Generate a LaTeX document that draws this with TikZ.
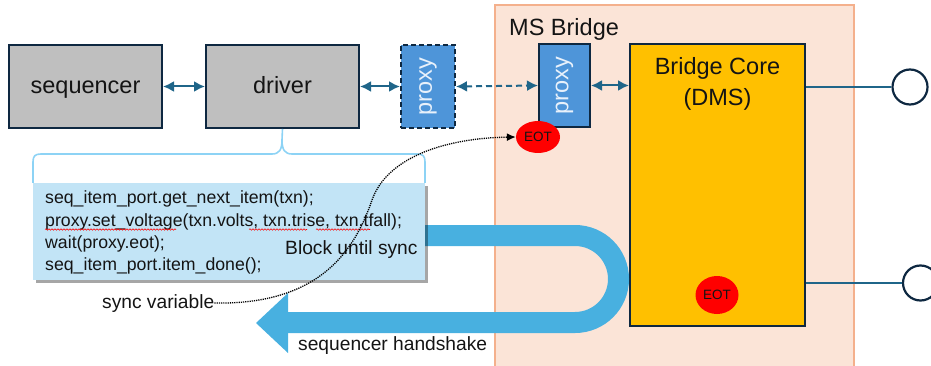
\documentclass[tikz,border=0pt]{standalone}
\usepackage{fontspec}
\setmainfont{Liberation Sans}
\usetikzlibrary{shapes.geometric,arrows.meta,shadows,decorations.pathmorphing}
\definecolor{grayfill}{HTML}{BFBFBF}
\definecolor{navy}{HTML}{0E2841}
\definecolor{linkblue}{HTML}{1F6589}
\definecolor{proxyblue}{HTML}{4E95D9}
\definecolor{proxytext}{HTML}{E8F1FB}
\definecolor{corefill}{HTML}{FFC000}
\definecolor{bridgefill}{HTML}{FBE4D7}
\definecolor{bridgedraw}{HTML}{F4B08C}
\definecolor{bandblue}{HTML}{48B0E0}
\definecolor{codefill}{HTML}{C2E4F6}
\definecolor{bracecol}{HTML}{8DD3F5}
\definecolor{eotred}{HTML}{FF0000}
\definecolor{txt}{HTML}{141414}
\newcommand{\bigfont}{\fontsize{23.5}{28}\selectfont}
\newcommand{\codefont}{\fontsize{17.7}{22}\selectfont}
\newcommand{\notefont}{\fontsize{19.2}{23}\selectfont}
\newcommand{\eotfont}{\fontsize{13.5}{15}\selectfont}
\begin{document}
\begin{tikzpicture}[x=1pt,y=-1pt,
  graybox/.style={draw=navy,line width=2pt,fill=grayfill,minimum width=153pt,minimum height=83pt,inner sep=0pt},
  boxtext/.style={anchor=base,inner sep=0pt,text=txt,font=\bigfont},
  proxybox/.style={draw=navy,line width=2pt,fill=proxyblue,inner sep=0pt,text=proxytext,font=\bigfont},
  corebox/.style={draw=navy,line width=2pt,fill=corefill,inner sep=0pt},
  link/.style={draw=linkblue,line width=2pt,{Latex[length=11pt,width=11pt]}-{Latex[length=11pt,width=11pt]}},
  port/.style={circle,draw=navy,line width=2.2pt,fill=white,minimum size=35pt,inner sep=0pt},
  portline/.style={draw=linkblue,line width=2pt},
  eot/.style={ellipse,fill=eotred,inner sep=0pt,text=txt,font=\eotfont},
  band/.style={draw=bandblue,line width=21pt},
  codeline/.style={anchor=base west,inner sep=0pt,text=txt,font=\codefont},
  note/.style={anchor=base west,inner sep=0pt,text=txt,font=\notefont},
  spell/.style={draw=red,line width=0.6pt,decorate,decoration={snake,amplitude=0.7pt,segment length=3pt}},
  sync/.style={draw=black,line width=1.3pt,dash pattern=on 1.2pt off 1pt,-{Latex[length=9pt,width=8pt]}}
]
\useasboundingbox (0,0) rectangle (931,366);
% MS Bridge container
\path[draw=bridgedraw,line width=2pt,fill=bridgefill] (495,5) rectangle (854,372);
\node[anchor=base west,inner sep=0pt,text=txt,font=\bigfont] (msb) at (509,36) {MS Bridge};

% boxes
\node[graybox] (seq) at (85.5,86.5) {};
\node[boxtext] (seqt) at (85.5,94) {sequencer};
\node[graybox] (drv) at (282.5,86.5) {};
\node[boxtext] (drvt) at (282.5,94) {driver};
\node[proxybox,dashed,dash pattern=on 5pt off 3pt,minimum width=54pt,minimum height=83pt] (pxl) at (428,86.5) {\rotatebox{90}{proxy}};
\node[proxybox,minimum width=51pt,minimum height=83pt] (pxr) at (564.5,85.5) {};
\node[text=proxytext,font=\bigfont,inner sep=0pt] (pxrt) at (pxr.center) {\rotatebox{90}{proxy}};
\node[corebox,minimum width=175pt,minimum height=282pt] (core) at (717.5,185) {};
\node[boxtext] (coret1) at (717.5,75) {Bridge Core};
\node[boxtext] (coret2) at (717.5,106) {(DMS)};

% ports
\node[port] (c1) at (910,87) {};
\node[port] (c2) at (920.5,283) {};
\draw[portline] (c1.west -| core.east) -- (c1.west);
\draw[portline] (c2.west -| core.east) -- (c2.west);

% links
\draw[link] (seq.east) -- (drv.west);
\draw[link] (drv.east) -- (pxl.west);
\draw[link,dashed,dash pattern=on 6pt off 4pt] (pxl.east) -- (pxr.west);
\draw[link] (pxr.east) -- (pxr.east -| core.west);

% EOT markers
\node[eot,minimum width=44pt,minimum height=32pt] (eot1) at (538,137) {EOT};
\node[eot,minimum width=43pt,minimum height=38pt] (eot2) at (717,295) {EOT};

% sequencer handshake band
\draw[band] (400,235.5) -- (575,235.5) arc(-90:90:43.5) -- (286,322.5);
\fill[bandblue] (288,293) -- (256,323) -- (288,353) -- cycle;
\node[note] (hs) at (298,350) {sequencer handshake};

% brace from driver
\draw[draw=bracecol,line width=1.6pt] (33,183) -- (33,162) .. controls (33,156) and (35,154) .. (41,154)
  -- (272,154) .. controls (279,154) and (282,150) .. (282,140) -- (drv.south);
\draw[draw=bracecol,line width=1.6pt] (425,183) -- (425,162) .. controls (425,156) and (423,154) .. (417,154)
  -- (292,154) .. controls (285,154) and (282,150) .. (282,140);

% code box
\node[fill=codefill,minimum width=392pt,minimum height=97pt,inner sep=0pt,
  drop shadow={shadow xshift=3pt,shadow yshift=-3pt,opacity=0.35,fill=black}] (code) at (229,231.5) {};
\node[codeline] (l1) at (45,204) {seq\_item\_port.get\_next\_item(txn);};
\node[codeline] (l2) at (45,226) {proxy.set\_voltage(txn.volts, txn.trise, txn.tfall);};
\node[codeline] (l3) at (45,248) {wait(proxy.eot);};
\node[codeline] (l4) at (45,270) {seq\_item\_port.item\_done();};
\draw[spell] (45,229.5) -- (176,229.5);
\draw[spell] (249,229.5) -- (307,229.5);
\draw[spell] (316,229.5) -- (370,229.5);
\node[note] (blk) at (285,254) {Block until sync};

% sync variable
\node[note] (sv) at (102,308) {sync variable};
\draw[sync] (sv.east) .. controls (320,305) and (355,250) .. (372,200)
  .. controls (388,155) and (450,138) .. (eot1.west);
\end{tikzpicture}
\end{document}
